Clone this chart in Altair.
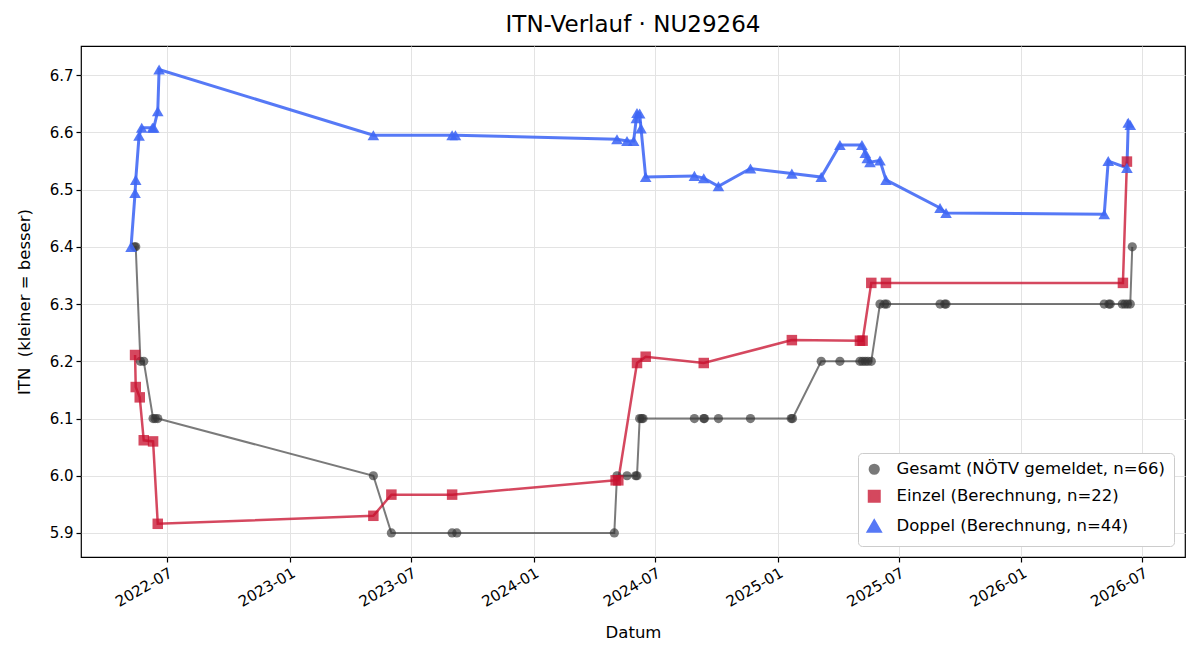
import altair as alt
import pandas as pd

# ---------------- data ----------------
S_GES = "Gesamt (NÖTV gemeldet, n=66)"
S_EIN = "Einzel (Berechnung, n=22)"
S_DOP = "Doppel (Berechnung, n=44)"
series_names = [S_GES, S_EIN, S_DOP]

ges_dates = ["2022-05-13", "2022-05-15", "2022-05-22", "2022-05-27", "2022-06-10", "2022-06-13",
             "2022-06-17", "2023-05-06", "2023-06-02", "2023-09-01", "2023-09-08", "2024-05-01",
             "2024-05-05", "2024-05-20", "2024-06-02", "2024-06-04", "2024-06-08", "2024-06-11",
             "2024-06-13", "2024-08-29", "2024-09-12", "2024-09-13", "2024-10-04", "2024-11-21",
             "2025-01-21", "2025-01-23", "2025-03-07", "2025-04-04", "2025-05-04", "2025-05-08",
             "2025-05-12", "2025-05-16", "2025-05-21", "2025-06-03", "2025-06-10", "2025-06-13",
             "2025-09-01", "2025-09-08", "2025-09-10", "2026-05-05", "2026-05-12", "2026-05-14",
             "2026-06-01", "2026-06-05", "2026-06-09", "2026-06-13", "2026-06-16"]
ges_values = [6.4, 6.4, 6.2, 6.2, 6.1, 6.1,
              6.1, 6.0, 5.9, 5.9, 5.9, 5.9,
              6.0, 6.0, 6.0, 6.0, 6.1, 6.1,
              6.1, 6.1, 6.1, 6.1, 6.1, 6.1,
              6.1, 6.1, 6.2, 6.2, 6.2, 6.2,
              6.2, 6.2, 6.2, 6.3, 6.3, 6.3,
              6.3, 6.3, 6.3, 6.3, 6.3, 6.3,
              6.3, 6.3, 6.3, 6.3, 6.4]

ein_dates = ["2022-05-14", "2022-05-15", "2022-05-21", "2022-05-27", "2022-06-10", "2022-06-17",
             "2023-05-06", "2023-06-02", "2023-09-01", "2024-05-03", "2024-05-07", "2024-06-04",
             "2024-06-17", "2024-09-12", "2025-01-22", "2025-05-04", "2025-05-08", "2025-05-21",
             "2025-06-12", "2026-06-02", "2026-06-08"]
ein_values = [6.211, 6.155, 6.137, 6.062, 6.060, 5.916,
              5.930, 5.967, 5.967, 5.992, 5.992, 6.197,
              6.208, 6.197, 6.237, 6.236, 6.236, 6.337,
              6.337, 6.337, 6.549]

dop_dates = ["2022-05-08", "2022-05-14", "2022-05-15", "2022-05-20", "2022-05-24", "2022-06-09",
             "2022-06-11", "2022-06-17", "2022-06-19", "2023-05-06", "2023-09-01", "2023-09-06",
             "2024-05-05", "2024-05-20", "2024-05-30", "2024-06-03", "2024-06-04", "2024-06-08",
             "2024-06-10", "2024-06-17", "2024-08-29", "2024-09-12", "2024-10-04", "2024-11-21",
             "2025-01-22", "2025-03-07", "2025-04-04", "2025-05-07", "2025-05-12", "2025-05-15",
             "2025-05-19", "2025-06-03", "2025-06-12", "2025-09-01", "2025-09-10", "2026-05-05",
             "2026-05-11", "2026-06-08", "2026-06-10", "2026-06-13"]
dop_values = [6.400, 6.494, 6.517, 6.594, 6.608, 6.608,
              6.608, 6.637, 6.710, 6.595, 6.595, 6.595,
              6.588, 6.585, 6.585, 6.625, 6.634, 6.633,
              6.607, 6.522, 6.524, 6.520, 6.506, 6.537,
              6.528, 6.522, 6.578, 6.578, 6.564, 6.555,
              6.548, 6.551, 6.517, 6.468, 6.459, 6.457,
              6.550, 6.538, 6.617, 6.613]

y_ticks = [5.9, 6.0, 6.1, 6.2, 6.3, 6.4, 6.5, 6.6, 6.7]
x_tick_months = [(2022, 7), (2023, 1), (2023, 7), (2024, 1), (2024, 7),
                 (2025, 1), (2025, 7), (2026, 1), (2026, 7)]

# ---------------- styling ----------------
colors = ["#333333", "#c8102e", "#3f66f5"]
opacities = [0.65, 0.88, 0.88]
widths = [2, 3, 3]
marker_shapes = ["circle", "square", "triangle-up"]
marker_sizes = [85, 135, 150]
FONT = "DejaVu Sans"

rows = []
for name, ds, vs in [(S_GES, ges_dates, ges_values), (S_EIN, ein_dates, ein_values),
                     (S_DOP, dop_dates, dop_values)]:
    for i, (d, v) in enumerate(zip(ds, vs)):
        rows.append({"series": name, "date": d, "value": v, "idx": i})
df = pd.DataFrame(rows)

x_dom = [alt.DateTime(year=2022, month=2, date=22, utc=True),
         alt.DateTime(year=2026, month=9, date=3, utc=True)]
x_vals = [alt.DateTime(year=y, month=m, date=1, utc=True) for y, m in x_tick_months]

x_enc = alt.X("date:T", scale=alt.Scale(type="utc", domain=x_dom, nice=False),
              axis=alt.Axis(values=x_vals, labelExpr="utcFormat(datum.value, '%Y-%m')",
                            title="Datum", labelAngle=330, labelAlign="right",
                            labelBaseline="top", titlePadding=15))
y_enc = alt.Y("value:Q", scale=alt.Scale(domain=[5.858, 6.751], nice=False, zero=False),
              axis=alt.Axis(values=y_ticks, format=".1f", title="ITN\u00a0 (kleiner = besser)",
                            titlePadding=17))

color_scale = alt.Scale(domain=series_names, range=colors)
legend = alt.Legend(title=None, orient="bottom-right", offset=11)
base = alt.Chart(df).encode(x=x_enc, y=y_enc)

lines = base.mark_line().encode(
    color=alt.Color("series:N", scale=color_scale, legend=legend),
    opacity=alt.Opacity("series:N", scale=alt.Scale(domain=series_names, range=opacities), legend=None),
    strokeWidth=alt.StrokeWidth("series:N", scale=alt.Scale(domain=series_names, range=widths), legend=None),
    order="idx:Q",
    detail="series:N",
)

points = base.mark_point(filled=True, strokeWidth=0).encode(
    color=alt.Color("series:N", scale=color_scale, legend=legend),
    shape=alt.Shape("series:N", scale=alt.Scale(domain=series_names, range=marker_shapes), legend=legend),
    size=alt.Size("series:N", scale=alt.Scale(domain=series_names, range=marker_sizes), legend=None),
    opacity=alt.Opacity("series:N", scale=alt.Scale(domain=series_names, range=opacities), legend=None),
)

chart = alt.layer(lines, points).properties(
    width=1104, height=511,
    title=alt.TitleParams("ITN-Verlauf · NU29264", fontSize=23, font=FONT, fontWeight="normal",
                          color="black", anchor="middle", offset=9),
    autosize=alt.AutoSizeParams(type="none"),
    padding={"left": 81, "top": 46, "right": 15, "bottom": 103},
).configure_view(stroke="black", strokeWidth=1.2).configure_axis(
    labelFont=FONT, labelFontSize=15, labelColor="black", titleFont=FONT, titleFontSize=16.5,
    titleFontWeight="normal", titleColor="black", grid=True, gridColor="#e3e3e3", gridWidth=1,
    domain=False, tickColor="black", tickSize=5, tickWidth=1.2, labelPadding=3,
).configure_legend(
    labelFont=FONT, labelFontSize=16.5, labelColor="black", fillColor="white",
    strokeColor="#cccccc", cornerRadius=4, padding=8, symbolSize=120, symbolStrokeWidth=0,
    rowPadding=8, labelLimit=400, labelOffset=14,
)

chart.save("out.html", embed_options={"renderer": "svg", "actions": False})
